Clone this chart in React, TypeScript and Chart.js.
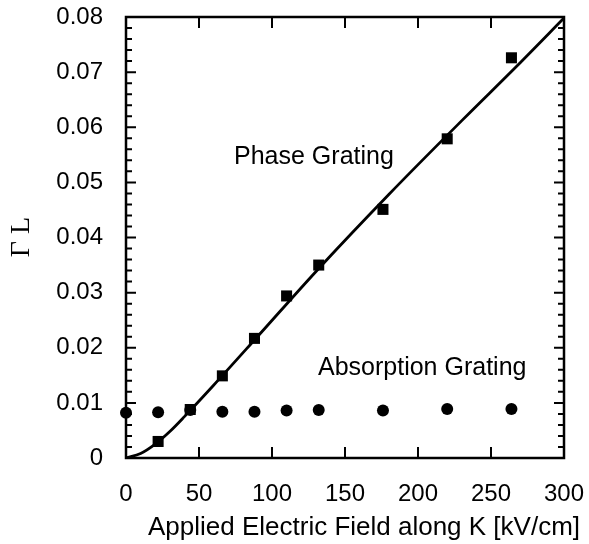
import React, { useEffect, useRef } from "react";
import { Chart, registerables } from "chart.js";

Chart.register(...registerables);

// Data
const fieldValues = [22, 44, 66, 88, 110, 132, 176, 220, 264];
const phaseGrating = [0.003, 0.0088, 0.0149, 0.0217, 0.0294, 0.035, 0.0451, 0.0579, 0.0726];

const absorptionField = [0, 22, 44, 66, 88, 110, 132, 176, 220, 264];
const absorptionGrating = [0.0082, 0.0083, 0.0087, 0.0084, 0.0084, 0.0086, 0.0087, 0.0086, 0.0089, 0.0089];

const fitField = [0, 10, 20, 30, 40, 60, 90, 130, 180, 230, 270, 300];
const fitValues = [0, 0.0008, 0.0025, 0.0048, 0.0075, 0.0132, 0.022, 0.0338, 0.0478, 0.0612, 0.0717, 0.0798];

const xTicks = [0, 50, 100, 150, 200, 250, 300];
const yTicks = [0, 0.01, 0.02, 0.03, 0.04, 0.05, 0.06, 0.07, 0.08];

const xTitle = "Applied Electric Field along K [kV/cm]";
const yTitle = "Γ L";
const labels = [
  { text: "Phase Grating", x: 74, y: 0.0546 },
  { text: "Absorption Grating", x: 131.5, y: 0.0163 },
];

const SANS = "'Liberation Sans', Arial, Helvetica, sans-serif";
const SERIF = "'Liberation Serif', 'Times New Roman', serif";

const framePlugin = {
  id: "framePlugin",
  afterDatasetsDraw(chart: any) {
    const { ctx, chartArea } = chart;
    const { left, right, top, bottom } = chartArea;
    const xs = chart.scales.x;
    const ys = chart.scales.y;
    ctx.save();
    ctx.strokeStyle = "#000";
    ctx.lineWidth = 2.5;
    ctx.strokeRect(left, top, right - left, bottom - top);
    ctx.lineWidth = 2;
    ctx.beginPath();
    for (let i = 0; i <= 40; i++) {
      const v = i * 0.002;
      const py = ys.getPixelForValue(v);
      const len = i % 5 === 0 ? 10 : 6;
      ctx.moveTo(left, py);
      ctx.lineTo(left + len, py);
      ctx.moveTo(right, py);
      ctx.lineTo(right - len, py);
    }
    for (const v of xTicks) {
      if (v === 0 || v === 300) continue;
      const px = xs.getPixelForValue(v);
      ctx.moveTo(px, bottom);
      ctx.lineTo(px, bottom - 11);
      ctx.moveTo(px, top);
      ctx.lineTo(px, top + 11);
    }
    ctx.stroke();

    ctx.fillStyle = "#000";
    ctx.textBaseline = "middle";
    ctx.font = `25px ${SANS}`;
    ctx.textAlign = "left";
    for (const l of labels) {
      ctx.fillText(l.text, xs.getPixelForValue(l.x), ys.getPixelForValue(l.y));
    }
    ctx.textAlign = "center";
    ctx.font = `26px ${SANS}`;
    ctx.fillText(xTitle, 364, 528);
    ctx.translate(22, 237);
    ctx.rotate(-Math.PI / 2);
    ctx.font = `28px ${SERIF}`;
    ctx.fillText(yTitle, 0, 0);
    ctx.restore();
  },
};

export default function App() {
  const ref = useRef<HTMLCanvasElement>(null);
  useEffect(() => {
    if (!ref.current) return;
    const chart = new Chart(ref.current, {
      type: "scatter",
      data: {
        datasets: [
          {
            label: "Phase Grating",
            data: fieldValues.map((x, i) => ({ x, y: phaseGrating[i] })),
            pointStyle: "rect",
            pointRadius: 7.8,
            backgroundColor: "#000",
            borderColor: "#000",
            borderWidth: 0,
            clip: false,
          } as any,
          {
            label: "Absorption Grating",
            data: absorptionField.map((x, i) => ({ x, y: absorptionGrating[i] })),
            pointStyle: "circle",
            pointRadius: 6,
            backgroundColor: "#000",
            borderColor: "#000",
            borderWidth: 0,
            clip: false,
          } as any,
          {
            type: "line",
            label: "Fit",
            data: fitField.map((x, i) => ({ x, y: fitValues[i] })),
            borderColor: "#000",
            borderWidth: 2.8,
            pointRadius: 0,
            showLine: true,
            fill: false,
            cubicInterpolationMode: "monotone",
          } as any,
        ],
      },
      options: {
        animation: false,
        responsive: true,
        maintainAspectRatio: false,
        layout: { padding: { top: 17, right: 25, bottom: 0, left: 0 } },
        plugins: { legend: { display: false }, tooltip: { enabled: false } },
        scales: {
          x: {
            type: "linear",
            min: 0,
            max: 300,
            afterBuildTicks: (s: any) => {
              s.ticks = xTicks.map((v) => ({ value: v }));
            },
            afterFit: (s: any) => {
              s.height = 86;
              s.paddingLeft = 0;
              s.paddingRight = 0;
            },
            ticks: {
              color: "#000",
              font: { family: SANS, size: 24 },
              padding: 22,
              maxRotation: 0,
            },
            grid: { display: false, drawTicks: false },
            border: { display: false },
          },
          y: {
            type: "linear",
            min: 0,
            max: 0.08,
            afterBuildTicks: (s: any) => {
              s.ticks = yTicks.map((v) => ({ value: v }));
            },
            afterFit: (s: any) => {
              s.width = 126;
              s.paddingTop = 0;
              s.paddingBottom = 0;
            },
            ticks: {
              color: "#000",
              font: { family: SANS, size: 24 },
              padding: 23,
              callback: (v: any) => (Number(v) === 0 ? "0" : Number(v).toFixed(2)),
            },
            grid: { display: false, drawTicks: false },
            border: { display: false },
          },
        },
      },
      plugins: [framePlugin],
    });
    return () => chart.destroy();
  }, []);
  return (
    <div style={{ position: "absolute", left: 0, top: 0, width: 589, height: 544, background: "#fff" }}>
      <canvas ref={ref} />
    </div>
  );
}
